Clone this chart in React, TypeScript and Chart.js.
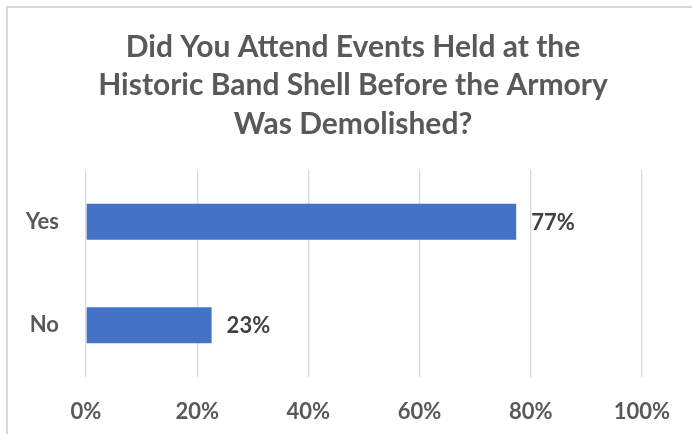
import React, { useEffect, useRef } from "react";
import { Chart, registerables } from "chart.js";

Chart.register(...registerables);

const titleLines = [
  "Did You Attend Events Held at the",
  "Historic Band Shell Before the Armory",
  "Was Demolished?",
];
const categories = ["Yes", "No"];
const percentValues = [77.4, 22.6];
const axisMin = 0;
const axisMax = 100;
const axisStep = 20;

const FONT = "Lato";

const borderPlugin = {
  id: "frameBorder",
  beforeDraw(chart: any) {
    const { ctx, width, height } = chart;
    ctx.save();
    ctx.fillStyle = "#ffffff";
    ctx.fillRect(0, 0, width, height);
    ctx.strokeStyle = "#D9D9D9";
    ctx.lineWidth = 2;
    ctx.strokeRect(7, 7, width + 50, height + 50);
    ctx.restore();
  },
};

const valueLabelPlugin = {
  id: "valueLabels",
  afterDatasetsDraw(chart: any) {
    const { ctx } = chart;
    const meta = chart.getDatasetMeta(0);
    const data = chart.data.datasets[0].data as number[];
    ctx.save();
    ctx.font = `bold 22px ${FONT}`;
    ctx.fillStyle = "#404040";
    ctx.textAlign = "left";
    ctx.textBaseline = "middle";
    meta.data.forEach((el: any, i: number) => {
      ctx.fillText(Math.round(data[i]) + "%", el.x + 15, el.y + 1);
    });
    ctx.restore();
  },
};

export default function App() {
  const canvasRef = useRef<HTMLCanvasElement | null>(null);

  useEffect(() => {
    if (!canvasRef.current) return;
    const chart = new Chart(canvasRef.current, {
      type: "bar",
      data: {
        labels: categories,
        datasets: [
          {
            data: percentValues,
            backgroundColor: "#4472C4",
            borderWidth: 0,
            barPercentage: 0.346,
            categoryPercentage: 1,
          },
        ],
      },
      options: {
        indexAxis: "y",
        responsive: false,
        animation: false,
        layout: { padding: { left: 14, right: 0, top: 0, bottom: 0 } },
        plugins: {
          legend: { display: false },
          tooltip: { enabled: false },
          title: {
            display: true,
            text: titleLines,
            color: "#595959",
            font: { family: FONT, size: 30, weight: "bold", lineHeight: 38.5 / 30 },
            padding: { top: 28, bottom: 26.5 },
          },
        },
        scales: {
          x: {
            min: axisMin,
            max: axisMax,
            grid: { color: "#D9D9D9", lineWidth: 1.3, drawTicks: false },
            border: { display: false },
            ticks: {
              stepSize: axisStep,
              padding: 22,
              color: "#595959",
              font: { family: FONT, size: 22, weight: "bold" },
              callback: (v: any) => v + "%",
            },
            afterFit: (s: any) => {
              s.height = 57;
            },
          },
          y: {
            grid: { display: false, drawTicks: false },
            border: { display: false },
            ticks: {
              padding: 27,
              color: "#595959",
              font: { family: FONT, size: 22, weight: "bold" },
            },
            afterFit: (s: any) => {
              s.width = 72;
            },
          },
          y2: {
            type: "category",
            position: "right",
            grid: { display: false, drawTicks: false },
            border: { display: false },
            ticks: { display: false },
            afterFit: (s: any) => {
              s.width = 50;
            },
          },
        },
      } as any,
      plugins: [borderPlugin, valueLabelPlugin],
    });
    return () => chart.destroy();
  }, []);

  return (
    <div style={{ position: "fixed", left: 0, top: 0, width: 692, height: 434, overflow: "hidden", background: "#fff" }}>
      <canvas ref={canvasRef} width={692} height={434} style={{ display: "block", width: 692, height: 434 }} />
    </div>
  );
}
